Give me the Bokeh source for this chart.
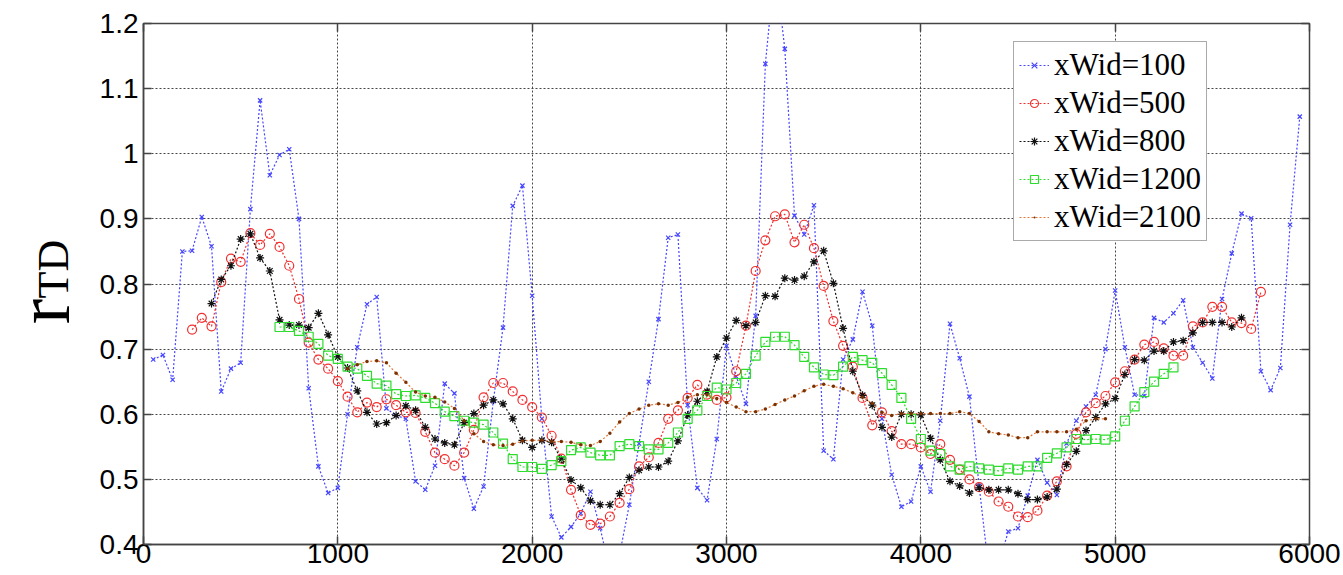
from bokeh.plotting import figure
from bokeh.layouts import row
from bokeh.models import (Range1d, FixedTicker, Legend, LegendItem, LinearAxis,
                          CustomJSTickFormatter)
from bokeh.core.properties import value
from bokeh.embed import file_html
from bokeh.resources import INLINE

# ---------------- data ----------------
x_100 = list(range(50, 6000, 50))
r_100 = [0.684, 0.691, 0.653, 0.850, 0.851, 0.903, 0.858, 0.635, 0.670, 0.679,
         0.915, 1.082, 0.967, 0.998, 1.007, 0.900, 0.640, 0.520, 0.479, 0.487,
         0.600, 0.703, 0.769, 0.780, 0.609, 0.598, 0.593, 0.497, 0.484, 0.521,
         0.647, 0.632, 0.502, 0.455, 0.489, 0.620, 0.733, 0.920, 0.951, 0.782,
         0.593, 0.443, 0.411, 0.427, 0.448, 0.481, 0.425, 0.360, 0.385, 0.461,
         0.555, 0.650, 0.746, 0.871, 0.876, 0.614, 0.487, 0.468, 0.562, 0.705,
         0.658, 0.616, 0.751, 1.138, 1.290, 1.161, 0.905, 0.876, 0.921, 0.544,
         0.531, 0.684, 0.715, 0.788, 0.736, 0.593, 0.507, 0.458, 0.466, 0.520,
         0.481, 0.590, 0.739, 0.686, 0.627, 0.490, 0.360, 0.370, 0.420, 0.425,
         0.475, 0.530, 0.495, 0.476, 0.555, 0.590, 0.612, 0.630, 0.700, 0.790,
         0.703, 0.630, 0.628, 0.748, 0.741, 0.755, 0.775, 0.703, 0.679, 0.655,
         0.777, 0.847, 0.908, 0.901, 0.666, 0.637, 0.671, 0.891, 1.057]

x_500 = list(range(250, 5800, 50))
r_500 = [0.730, 0.748, 0.735, 0.803, 0.839, 0.834, 0.878, 0.860, 0.877, 0.857,
         0.828, 0.777, 0.710, 0.684, 0.670, 0.651, 0.627, 0.603, 0.618, 0.611,
         0.623, 0.614, 0.603, 0.602, 0.573, 0.541, 0.531, 0.521, 0.541, 0.576,
         0.626, 0.648, 0.648, 0.635, 0.622, 0.611, 0.595, 0.567, 0.532, 0.484,
         0.445, 0.430, 0.432, 0.443, 0.464, 0.485, 0.520, 0.534, 0.556, 0.593,
         0.606, 0.625, 0.645, 0.630, 0.622, 0.626, 0.666, 0.736, 0.820, 0.867,
         0.904, 0.907, 0.864, 0.891, 0.855, 0.797, 0.743, 0.705, 0.673, 0.625,
         0.583, 0.603, 0.574, 0.554, 0.554, 0.549, 0.539, 0.554, 0.530, 0.515,
         0.500, 0.488, 0.481, 0.466, 0.458, 0.443, 0.442, 0.452, 0.475, 0.497,
         0.520, 0.570, 0.603, 0.617, 0.628, 0.649, 0.666, 0.684, 0.707, 0.711,
         0.701, 0.690, 0.690, 0.735, 0.741, 0.765, 0.765, 0.741, 0.740, 0.731,
         0.788]

x_800 = list(range(350, 5700, 50))
r_800 = [0.770, 0.807, 0.828, 0.869, 0.877, 0.840, 0.820, 0.745, 0.737, 0.737,
         0.733, 0.755, 0.722, 0.688, 0.671, 0.636, 0.603, 0.585, 0.587, 0.598,
         0.613, 0.606, 0.580, 0.562, 0.556, 0.553, 0.587, 0.601, 0.614, 0.622,
         0.616, 0.593, 0.560, 0.549, 0.560, 0.557, 0.531, 0.499, 0.487, 0.467,
         0.461, 0.461, 0.478, 0.503, 0.514, 0.519, 0.519, 0.528, 0.559, 0.599,
         0.620, 0.635, 0.688, 0.717, 0.744, 0.736, 0.741, 0.782, 0.781, 0.809,
         0.806, 0.812, 0.834, 0.851, 0.801, 0.732, 0.666, 0.629, 0.614, 0.580,
         0.565, 0.600, 0.600, 0.599, 0.563, 0.530, 0.497, 0.490, 0.479, 0.487,
         0.484, 0.484, 0.484, 0.478, 0.469, 0.469, 0.473, 0.485, 0.523, 0.543,
         0.575, 0.595, 0.616, 0.624, 0.661, 0.684, 0.683, 0.697, 0.697, 0.711,
         0.713, 0.725, 0.741, 0.741, 0.741, 0.734, 0.748]

x_1200 = list(range(700, 5350, 50))
r_1200 = [0.734, 0.734, 0.728, 0.719, 0.708, 0.690, 0.685, 0.673, 0.670, 0.659,
          0.647, 0.644, 0.631, 0.628, 0.629, 0.625, 0.617, 0.604, 0.597, 0.590,
          0.587, 0.584, 0.572, 0.555, 0.531, 0.519, 0.519, 0.516, 0.522, 0.528,
          0.545, 0.549, 0.541, 0.537, 0.537, 0.551, 0.554, 0.551, 0.546, 0.546,
          0.556, 0.572, 0.593, 0.606, 0.628, 0.641, 0.638, 0.648, 0.662, 0.690,
          0.711, 0.719, 0.719, 0.706, 0.688, 0.672, 0.661, 0.660, 0.673, 0.688,
          0.683, 0.679, 0.663, 0.645, 0.625, 0.593, 0.562, 0.544, 0.539, 0.520,
          0.515, 0.520, 0.517, 0.515, 0.513, 0.517, 0.515, 0.520, 0.520, 0.533,
          0.540, 0.549, 0.562, 0.561, 0.562, 0.561, 0.566, 0.590, 0.612, 0.634,
          0.650, 0.662, 0.672]

x_2100 = list(range(1050, 5000, 50))
r_2100 = [0.670, 0.676, 0.681, 0.682, 0.679, 0.663, 0.649, 0.634, 0.628, 0.626,
          0.619, 0.609, 0.590, 0.570, 0.558, 0.553, 0.552, 0.554, 0.559, 0.560,
          0.560, 0.558, 0.558, 0.557, 0.553, 0.552, 0.558, 0.571, 0.588, 0.601,
          0.608, 0.614, 0.616, 0.614, 0.618, 0.626, 0.630, 0.630, 0.624, 0.618,
          0.611, 0.604, 0.604, 0.608, 0.615, 0.622, 0.628, 0.636, 0.643, 0.646,
          0.643, 0.639, 0.633, 0.626, 0.617, 0.603, 0.598, 0.601, 0.601, 0.601,
          0.601, 0.601, 0.601, 0.604, 0.601, 0.589, 0.573, 0.570, 0.568, 0.564,
          0.564, 0.573, 0.573, 0.573, 0.573, 0.577, 0.590, 0.593, 0.593]

labels = ["xWid=100", "xWid=500", "xWid=800", "xWid=1200", "xWid=2100"]
x_ticks = [0, 1000, 2000, 3000, 4000, 5000, 6000]
y_ticks = [0.4, 0.5, 0.6, 0.7, 0.8, 0.9, 1.0, 1.1, 1.2]
y_label_main, y_label_sub = "r", "TD"

# ---------------- layout sizes ----------------
H = 575
LW = 90            # width of the strip that carries the y-axis label
W = 1343 - LW

# ---------------- y-axis label strip ----------------
lab = figure(width=LW, height=H, output_backend="svg", toolbar_location=None,
             x_range=Range1d(0, LW), y_range=Range1d(0, H),
             min_border=0)
lab.axis.visible = False
lab.grid.visible = False
lab.outline_line_color = None
lab.background_fill_color = "white"
lab.border_fill_color = "white"
lab.text(x=[42.5], y=[H - 318], text=[y_label_main], angle=90,
         angle_units="deg", text_font=value("Liberation Serif"),
         text_font_size="76px", text_baseline="middle", text_align="center",
         text_color="black")
lab.text(x=[53], y=[H - 271], text=[y_label_sub], angle=90,
         angle_units="deg", text_font=value("Liberation Serif"),
         text_font_size="44px", text_baseline="middle", text_align="center",
         text_color="black")

# ---------------- main figure ----------------
p = figure(width=W, height=H, output_backend="svg", toolbar_location=None,
           x_range=Range1d(0, 6000), y_range=Range1d(0.4, 1.2),
           min_border_left=143 - LW, min_border_right=34, min_border_top=23,
           min_border_bottom=31)
p.background_fill_color = "white"
p.border_fill_color = "white"
p.outline_line_color = "#444444"
p.outline_line_width = 1.5

for ax in (p.xaxis[0], p.yaxis[0]):
    ax.major_label_text_font = "Liberation Sans"
    ax.major_label_text_font_size = "28px"
    ax.major_label_text_color = "black"
    ax.axis_line_color = "#444444"
    ax.axis_line_width = 1.5
    ax.major_tick_line_color = "#444444"
    ax.major_tick_line_width = 1.5
    ax.major_tick_in = 8
    ax.major_tick_out = 0
    ax.minor_tick_line_color = None
p.xaxis.ticker = FixedTicker(ticks=x_ticks)
p.yaxis.ticker = FixedTicker(ticks=y_ticks)
p.yaxis.formatter = CustomJSTickFormatter(
    code="return String(Math.round(tick*10)/10);")
p.xaxis.major_label_standoff = -1
p.yaxis.major_label_standoff = 5

# mirrored inward ticks on the top and right edges (no labels)
for loc, tk in (("right", y_ticks), ("above", x_ticks)):
    ax = LinearAxis(ticker=FixedTicker(ticks=tk))
    ax.major_label_text_color = None
    ax.major_label_text_font_size = "1px"
    ax.major_label_standoff = 0
    ax.axis_line_color = None
    ax.major_tick_line_color = "#444444"
    ax.major_tick_line_width = 1.5
    ax.major_tick_in = 8
    ax.major_tick_out = 0
    ax.minor_tick_line_color = None
    p.add_layout(ax, loc)

for g in (p.xgrid[0], p.ygrid[0]):
    g.grid_line_color = "#333333"
    g.grid_line_dash = "2 2"
    g.grid_line_width = 1
    g.grid_line_alpha = 0.9
p.xgrid.ticker = FixedTicker(ticks=x_ticks)
p.ygrid.ticker = FixedTicker(ticks=y_ticks)

series = [
    (x_100, r_100, "#4646ff", "x", 6, None),
    (x_500, r_500, "#f03030", "circle", 9, None),
    (x_800, r_800, "#111111", "asterisk", 8, None),
    (x_1200, r_1200, "#2edc2e", "square", 9, None),
    (x_2100, r_2100, "#e0783a", "dot", 14, "#7a3000"),
]
items = []
for (xs, ys, col, mk, sz, fill), lb in zip(series, labels):
    ln = p.line(xs, ys, line_color=col, line_dash="2 2", line_width=1.2)
    if fill is None:
        sc = p.scatter(xs, ys, marker=mk, size=sz, line_color=col,
                       fill_color=None, line_width=1.2)
    else:
        sc = p.scatter(xs, ys, marker=mk, size=sz, line_color=fill,
                       fill_color=fill, line_width=1)
    items.append(LegendItem(label=lb, renderers=[ln, sc]))

legend = Legend(items=items, location=(870, 303))
legend.label_text_font = "Liberation Serif"
legend.label_text_font_size = "31px"
legend.label_text_color = "black"
legend.border_line_color = "#555555"
legend.border_line_width = 1.5
legend.background_fill_color = "white"
legend.background_fill_alpha = 1
legend.glyph_width = 30
legend.glyph_height = 20
legend.label_height = 34
legend.label_standoff = 5
legend.spacing = 2
legend.padding = 5
legend.margin = 0
p.add_layout(legend)

layout = row(lab, p, spacing=0)
open("out.html", "w").write(file_html(layout, INLINE))
